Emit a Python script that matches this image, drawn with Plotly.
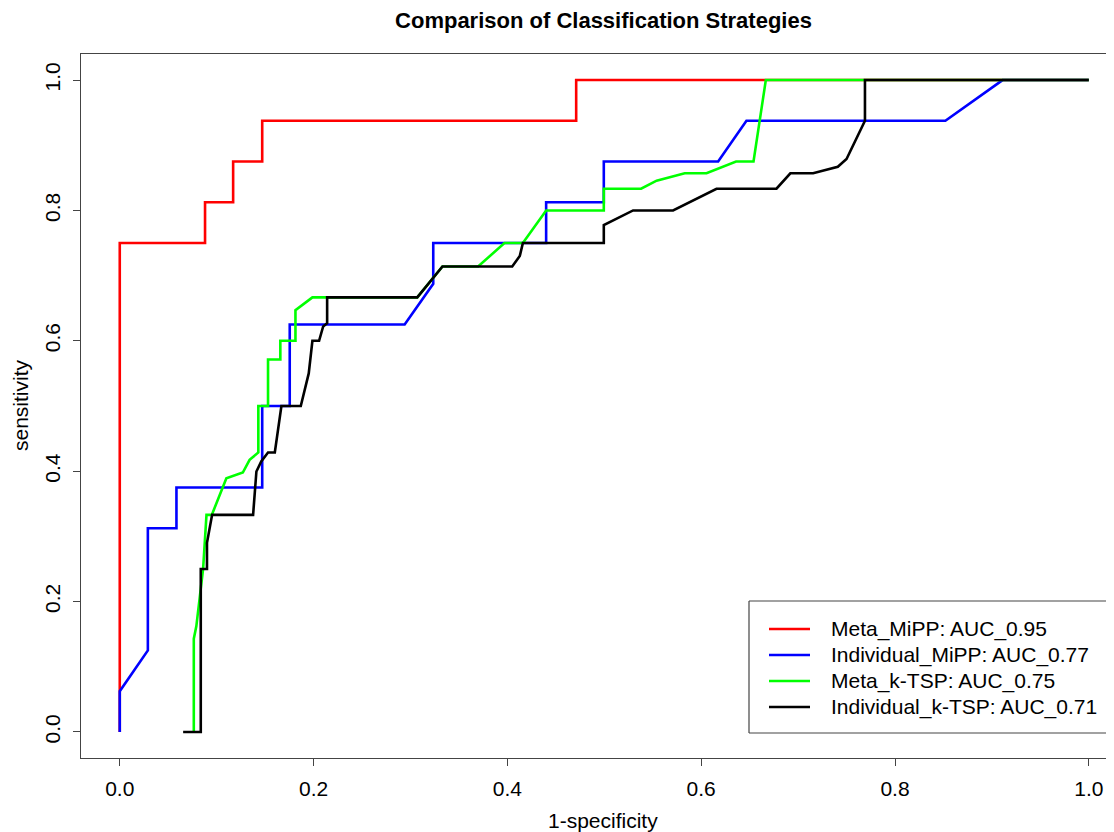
import plotly.graph_objects as go

# Meta_MiPP
red_x = [0, 0, 0.088, 0.088, 0.117, 0.117, 0.147, 0.147, 0.471, 0.471, 1.0]
red_y = [0, 0.75, 0.75, 0.8125, 0.8125, 0.875, 0.875, 0.9375, 0.9375, 1.0, 1.0]

# Individual_MiPP
blue_x = [0, 0, 0.029, 0.029, 0.0585, 0.0585, 0.147, 0.147, 0.1754, 0.1754, 0.294, 0.3235,
          0.3235, 0.440, 0.440, 0.4995, 0.4995, 0.6175, 0.6467, 0.852, 0.911, 1.0]
blue_y = [0, 0.0625, 0.125, 0.3125, 0.3125, 0.375, 0.375, 0.5, 0.5, 0.625, 0.625, 0.6875,
          0.75, 0.75, 0.8125, 0.8125, 0.875, 0.875, 0.9375, 0.9375, 1.0, 1.0]

# Meta_k-TSP
green_x = [0.0764, 0.0764, 0.079, 0.086, 0.0895, 0.095, 0.110, 0.127, 0.134, 0.143, 0.143,
           0.153, 0.153, 0.1657, 0.1657, 0.1813, 0.1813, 0.1988, 0.307, 0.333, 0.3698, 0.397,
           0.416, 0.440, 0.4995, 0.4995, 0.538, 0.554, 0.583, 0.6055, 0.636, 0.654, 0.6667, 1.0]
green_y = [0, 0.143, 0.162, 0.25, 0.333, 0.333, 0.389, 0.398, 0.4175, 0.4287, 0.5,
           0.5, 0.5714, 0.5714, 0.6, 0.6, 0.647, 0.6667, 0.6667, 0.714, 0.714, 0.75,
           0.75, 0.8, 0.8, 0.8333, 0.8333, 0.8457, 0.857, 0.857, 0.875, 0.875, 1.0, 1.0]

# Individual_k-TSP
black_x = [0.0654, 0.0836, 0.0836, 0.090, 0.090, 0.0953, 0.1376, 0.141, 0.146, 0.153, 0.160,
           0.1668, 0.1868, 0.195, 0.1988, 0.2057, 0.2099, 0.214, 0.214, 0.307, 0.333, 0.405,
           0.4128, 0.416, 0.4995, 0.4995, 0.5297, 0.571, 0.6158, 0.6777, 0.692, 0.7155, 0.741,
           0.750, 0.769, 0.769, 1.0]
black_y = [0, 0, 0.25, 0.25, 0.29, 0.333, 0.333, 0.3995, 0.415, 0.4287, 0.4287,
           0.5, 0.5, 0.55, 0.6, 0.6, 0.622, 0.627, 0.6667, 0.6667, 0.714, 0.714,
           0.730, 0.75, 0.75, 0.7777, 0.8, 0.8, 0.8333, 0.8333, 0.857, 0.857, 0.867,
           0.879, 0.9375, 1.0, 1.0]

series_names = ["Meta_MiPP: AUC_0.95", "Individual_MiPP: AUC_0.77",
                "Meta_k-TSP: AUC_0.75", "Individual_k-TSP: AUC_0.71"]
series_x = [red_x, blue_x, green_x, black_x]
series_y = [red_y, blue_y, green_y, black_y]
series_colors = ["#FF0000", "#0000FF", "#00FF00", "#000000"]

tick_vals = [0.0, 0.2, 0.4, 0.6, 0.8, 1.0]
tick_text = ["0.0", "0.2", "0.4", "0.6", "0.8", "1.0"]

FONT = "Arial, Liberation Sans, sans-serif"
FS = 21

# page geometry (page has an 8px body margin)
OFF = 8
W, H = 1106, 824
PL, PB = 81, 758          # plot area left / bottom in page pixels
PW, PH = 1033, 704        # plot area size


def px(xp):
    return (xp - PL) / PW


def py(yp):
    return (PB - yp) / PH


fig = go.Figure()
for name, xs, ys, col in zip(series_names, series_x, series_y, series_colors):
    fig.add_trace(go.Scatter(x=xs, y=ys, mode="lines", name=name, showlegend=False,
                             line=dict(color=col, width=2.6)))

# legend box (its right side runs off the page, as in the reference)
BOX = dict(color="#444", width=1.2)
LX0, LX1, LY0, LY1 = 749, 1200, 601, 733
shapes = [
    dict(type="rect", xref="paper", yref="paper", x0=px(LX0), x1=px(LX1),
         y0=py(LY1), y1=py(LY0), line=dict(width=0), fillcolor="white", layer="above"),
    dict(type="line", xref="paper", yref="paper", x0=px(LX0), x1=px(LX1),
         y0=py(LY0), y1=py(LY0), line=BOX, layer="above"),
    dict(type="line", xref="paper", yref="paper", x0=px(LX0), x1=px(LX1),
         y0=py(LY1), y1=py(LY1), line=BOX, layer="above"),
    dict(type="line", xref="paper", yref="paper", x0=px(LX0), x1=px(LX0),
         y0=py(LY0), y1=py(LY1), line=BOX, layer="above"),
]
annotations = []
leg_rows = [629, 655, 681, 707]
for name, col, yr in zip(series_names, series_colors, leg_rows):
    shapes.append(dict(type="line", xref="paper", yref="paper",
                       x0=px(769), x1=px(810), y0=py(yr), y1=py(yr),
                       line=dict(color=col, width=2.6), layer="above"))
    annotations.append(dict(text=name, xref="paper", yref="paper", x=px(829), y=py(yr),
                            xanchor="left", yanchor="middle", showarrow=False,
                            font=dict(size=FS, family=FONT, color="black")))

annotations.append(dict(text="1-specificity", xref="paper", yref="paper",
                        x=px(603), y=py(820), xanchor="center", yanchor="middle",
                        showarrow=False, font=dict(size=FS, family=FONT, color="black")))
annotations.append(dict(text="sensitivity", xref="paper", yref="paper",
                        x=px(20), y=py(405), xanchor="center", yanchor="middle",
                        textangle=-90, showarrow=False,
                        font=dict(size=FS, family=FONT, color="black")))

fig.update_layout(
    width=W, height=H,
    margin=dict(l=PL - OFF, r=0, t=54 - OFF, b=OFF + H - PB),
    paper_bgcolor="white", plot_bgcolor="white",
    font=dict(family=FONT, size=FS, color="black"),
    title=dict(text="<b>Comparison of Classification Strategies</b>",
               x=(603.5 - OFF) / W, xanchor="center", xref="container",
               y=1 - (20 - OFF) / H, yanchor="middle", yref="container",
               font=dict(size=22, family=FONT, color="black")),
    showlegend=False,
    shapes=shapes,
    annotations=annotations,
)
fig.update_xaxes(range=[-0.04, 1.026], tickvals=tick_vals, ticktext=tick_text,
                 showgrid=False, zeroline=False, showline=True, linecolor="#444", linewidth=1.2,
                 mirror=True, ticks="outside", ticklen=7, tickcolor="#444",
                 ticklabelstandoff=5, tickfont=dict(size=FS))
fig.update_yaxes(range=[-0.04, 1.04], tickvals=tick_vals, ticktext=tick_text,
                 showgrid=False, zeroline=False, showline=True, linecolor="#444", linewidth=1.2,
                 ticks="outside", ticklen=7, tickcolor="#444", tickangle=-90,
                 ticklabelstandoff=5, tickfont=dict(size=FS))

fig.write_html("out.html")
